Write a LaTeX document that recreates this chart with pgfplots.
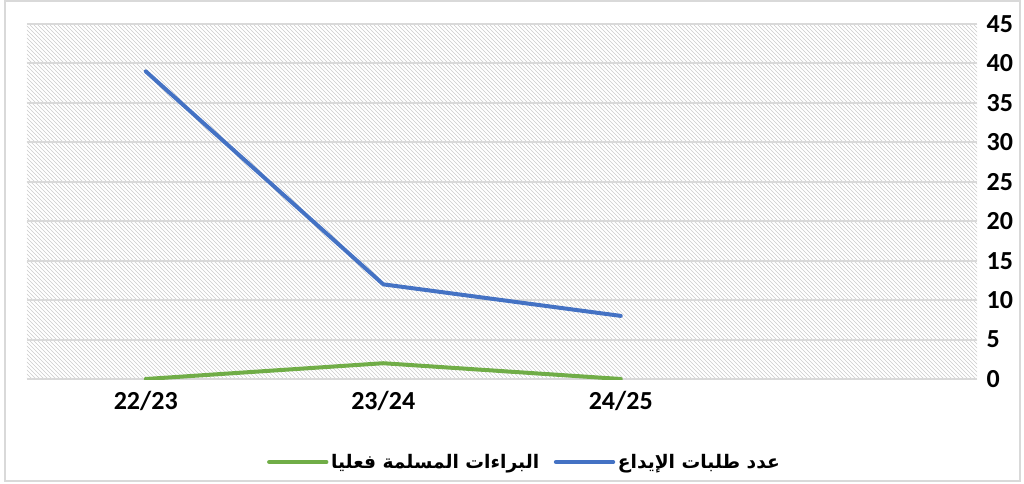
\documentclass[border=0pt]{standalone}
\usepackage{fontspec}
\setmainfont{Carlito}
\newfontfamily\arabicfont[Script=Arabic]{DejaVu Sans}
\usepackage{pgfplots}
\pgfplotsset{compat=1.18}
\usetikzlibrary{patterns}
\TeXXeTstate=1
\definecolor{cblue}{HTML}{4472C4}
\definecolor{cgreen}{HTML}{70AD47}
\definecolor{gridgray}{HTML}{D9D9D9}
\begin{document}
\begin{tikzpicture}
\path[use as bounding box] (0pt,0pt) rectangle (768pt,362.25pt);
\draw[gridgray, line width=1.5pt] (3.75pt,1.5pt) rectangle (765pt,361.5pt);
\begin{axis}[at={(20.25pt,78pt)}, anchor=south west, scale only axis,
  width=712.5pt, height=266.25pt,
  xmin=-0.5, xmax=3.5, ymin=0, ymax=45,
  ytick={0,5,...,45}, xtick={0,1,2}, xticklabels={22/23,23/24,24/25},
  axis line style={draw=none}, major tick length=0pt,
  ymajorgrids, grid style={gridgray, line width=1.5pt},
  yticklabel pos=right,
  axis background/.style={pattern=north west lines, pattern color=black!20},
  /pgf/number format/assume math mode=true,
  tick label style={font=\fontsize{19.5}{22}\selectfont\bfseries, black},
  yticklabel style={anchor=west, inner sep=0pt, xshift=7pt},
  xticklabel style={anchor=north, inner sep=0pt, yshift=-9pt},
  legend style={at={(0.524,-0.234)}, anchor=center, draw=none, fill=none,
    legend columns=2, font=\fontsize{14}{17}\selectfont\arabicfont\bfseries,
    /tikz/every even column/.append style={column sep=9pt}},
  legend image code/.code={\draw[#1, line width=3pt, line cap=round] (0pt,0pt) -- (43pt,0pt);},
]
\addplot[cblue, line width=3pt, line cap=round, forget plot] coordinates {(0,39) (1,12) (2,8)};
\addplot[cgreen, line width=3pt, line cap=round, forget plot] coordinates {(0,0) (1,2) (2,0)};
\addlegendimage{cgreen}
\addlegendentry{\beginR البراءات المسلمة فعليا\endR}
\addlegendimage{cblue}
\addlegendentry{\beginR عدد طلبات الإيداع\endR}
\end{axis}
\end{tikzpicture}
\end{document}
